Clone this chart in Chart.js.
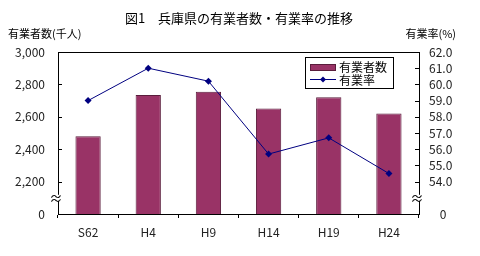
<!DOCTYPE html>
<html><head><meta charset="utf-8">
<script src="https://cdn.jsdelivr.net/npm/chart.js@4/dist/chart.umd.min.js"></script>
<style>html,body{margin:0;padding:0;background:#fff;}#wrap{width:480px;height:256px;position:relative;}</style>
</head><body><div id="wrap"><canvas id="c" width="480" height="256"></canvas></div>
<script>
const categories = ['S62','H4','H9','H14','H19','H24'];
const workers = [2480, 2735, 2755, 2652, 2720, 2621];
const rates = [59.0, 61.0, 60.2, 55.7, 56.7, 54.5];
const titleText = '図1　兵庫県の有業者数・有業率の推移';
const leftAxisTitle = '有業者数(千人)';
const rightAxisTitle = '有業率(%)';
const seriesNames = ['有業者数', '有業率'];
const FONT = "'Noto Sans CJK JP', sans-serif";

const deco = {
  id: 'deco',
  afterDraw(chart) {
    const ctx = chart.ctx, a = chart.chartArea;
    const y = chart.scales.y, y1 = chart.scales.y1;
    ctx.save();
    ctx.fillStyle = '#000';
    ctx.font = '13px ' + FONT;
    ctx.textAlign = 'center'; ctx.textBaseline = 'middle';
    ctx.fillText(titleText, 239, 18);
    ctx.font = '11px ' + FONT;
    ctx.textAlign = 'left';
    ctx.fillText(leftAxisTitle, 8, 34);
    ctx.textAlign = 'right';
    ctx.fillText(rightAxisTitle, 456, 34);
    ctx.strokeStyle = '#000'; ctx.lineWidth = 1;
    ctx.strokeRect(Math.round(a.left)+0.5, Math.round(a.top)+0.5, Math.round(a.right-a.left), Math.round(a.bottom-a.top));
    ctx.beginPath();
    y.ticks.forEach(t => {
      if (t.value > 2000 && t.value < 3000) {
        const py = Math.round(y.getPixelForValue(t.value)) + 0.5;
        ctx.moveTo(a.left, py); ctx.lineTo(a.left + 4, py);
      }
    });
    y1.ticks.forEach(t => {
      if (t.value > 53 && t.value < 62) {
        const py = Math.round(y1.getPixelForValue(t.value)) + 0.5;
        ctx.moveTo(a.right - 4, py); ctx.lineTo(a.right, py);
      }
    });
    ctx.stroke();
    ctx.font = '13px ' + FONT;
    ctx.textAlign = 'center'; ctx.textBaseline = 'middle';
    const by = y.getPixelForValue(2100);
    ctx.fillStyle = '#fff'; ctx.fillRect(a.left - 6, by - 3, 12, 6); ctx.fillRect(a.right - 6, by - 3, 12, 6);
    ctx.fillStyle = '#000';
    ctx.fillText('≈', a.left - 2, by);
    ctx.fillText('≈', a.right - 2, by);
    const lx = 305, ly = 57, lw = 88, lh = 31;
    ctx.fillStyle = '#fff'; ctx.fillRect(lx, ly, lw, lh);
    ctx.strokeRect(lx + 0.5, ly + 0.5, lw, lh);
    const ds0 = chart.data.datasets[0], ds1 = chart.data.datasets[1];
    ctx.fillStyle = ds0.backgroundColor;
    ctx.fillRect(lx + 5, ly + 7, 26, 7);
    ctx.strokeStyle = ds0.borderColor; ctx.strokeRect(lx + 5.5, ly + 7.5, 25, 6);
    ctx.strokeStyle = ds1.borderColor; ctx.beginPath();
    ctx.moveTo(lx + 5, ly + 22.5); ctx.lineTo(lx + 31, ly + 22.5); ctx.stroke();
    ctx.fillStyle = ds1.borderColor; ctx.beginPath();
    const cx = lx + 18, cy = ly + 22.5;
    ctx.moveTo(cx, cy - 3); ctx.lineTo(cx + 3, cy); ctx.lineTo(cx, cy + 3); ctx.lineTo(cx - 3, cy); ctx.closePath(); ctx.fill();
    ctx.fillStyle = '#000'; ctx.font = '12px ' + FONT; ctx.textAlign = 'left';
    ctx.fillText(seriesNames[0], lx + 34, ly + 10);
    ctx.fillText(seriesNames[1], lx + 34, ly + 23);
    ctx.restore();
  }
};

new Chart(document.getElementById('c'), {
  data: {
    labels: categories,
    datasets: [
      { type: 'bar', label: seriesNames[0], data: workers, yAxisID: 'y',
        backgroundColor: '#993366', borderColor: '#5a1d3c', borderWidth: 1,
        barPercentage: 0.42, categoryPercentage: 1, order: 2 },
      { type: 'line', label: seriesNames[1], data: rates, yAxisID: 'y1',
        borderColor: '#000080', backgroundColor: '#000080', borderWidth: 1,
        pointStyle: 'rectRot', pointRadius: 3.5, pointBorderWidth: 0, order: 1, tension: 0 }
    ]
  },
  options: {
    responsive: false, animation: false, devicePixelRatio: 1,
    layout: { padding: { top: 52, left: 0, right: 0, bottom: 0 } },
    plugins: { legend: { display: false }, tooltip: { enabled: false }, title: { display: false } },
    scales: {
      x: {
        offset: true,
        grid: { display: true, drawOnChartArea: false, offset: true, tickLength: 4, color: '#000' },
        border: { display: true, color: '#000' },
        ticks: { color: '#222', font: { family: FONT, size: 12 }, padding: 7, maxRotation: 0 },
        afterFit: s => { s.height = 42; }
      },
      y: {
        position: 'left', min: 2000, max: 3000,
        grid: { display: false },
        border: { display: true, color: '#000' },
        ticks: { stepSize: 200, autoSkip: false, color: '#222', font: { family: FONT, size: 12 }, padding: 5,
          callback: v => v === 2000 ? '0' : v.toLocaleString('en-US') },
        afterFit: s => { s.width = 58; }
      },
      y1: {
        position: 'right', min: 52, max: 62,
        grid: { display: false },
        border: { display: true, color: '#000' },
        ticks: { stepSize: 1, autoSkip: false, color: '#222', font: { family: FONT, size: 12 }, padding: 2,
          crossAlign: 'near',
          callback: v => v === 52 ? '    0' : (v === 53 ? '' : v.toFixed(1)) },
        afterFit: s => { s.width = 61; }
      }
    }
  },
  plugins: [deco]
});
</script></body></html>
